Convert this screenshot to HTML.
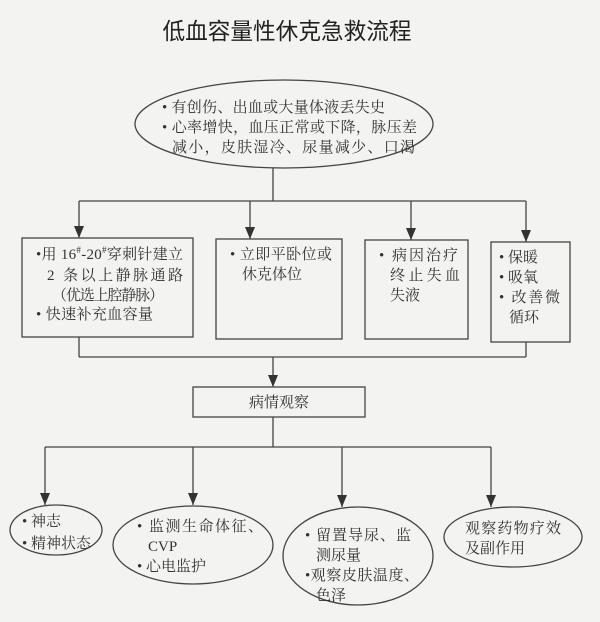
<!DOCTYPE html>
<html><head><meta charset="utf-8"><style>
html,body{margin:0;padding:0;background:#f3f3f1;}
svg{display:block}
text{font-family:"Liberation Serif","Noto Serif CJK SC",serif;font-size:15px;fill:#333;}
.t{font-family:"Liberation Sans","Noto Sans CJK SC",sans-serif;font-size:23px;fill:#222;}
</style></head><body>
<svg width="600" height="622" viewBox="0 0 600 622" xmlns="http://www.w3.org/2000/svg">
<defs><marker id="a" markerWidth="14" markerHeight="14" refX="12" refY="5" orient="auto" markerUnits="userSpaceOnUse"><path d="M0,0 L12,5 L0,10 z" fill="#333"/></marker></defs>
<g stroke="#444" stroke-width="1.3" fill="none">
<ellipse cx="284" cy="124" rx="149" ry="44"/>
<line x1="273" y1="168" x2="273" y2="201"/>
<line x1="79" y1="201" x2="526" y2="201"/>
<line x1="79" y1="201" x2="79" y2="238" marker-end="url(#a)"/>
<line x1="250" y1="201" x2="250" y2="239" marker-end="url(#a)"/>
<line x1="411" y1="201" x2="411" y2="240" marker-end="url(#a)"/>
<line x1="526" y1="201" x2="526" y2="242" marker-end="url(#a)"/>
<rect x="22" y="238" width="171" height="99"/>
<rect x="216" y="239" width="126" height="100"/>
<rect x="365" y="240" width="103" height="99"/>
<rect x="491" y="242" width="79" height="100"/>
<line x1="79" y1="337" x2="79" y2="357"/>
<line x1="526" y1="342" x2="526" y2="357"/>
<line x1="79" y1="357" x2="526" y2="357"/>
<line x1="273" y1="357" x2="273" y2="387" marker-end="url(#a)"/>
<rect x="193" y="387" width="172" height="30"/>
<line x1="273" y1="417" x2="273" y2="447"/>
<line x1="45" y1="447" x2="491" y2="447"/>
<line x1="45" y1="447" x2="45" y2="505" marker-end="url(#a)"/>
<line x1="193" y1="447" x2="193" y2="505" marker-end="url(#a)"/>
<line x1="342" y1="447" x2="342" y2="507" marker-end="url(#a)"/>
<line x1="491" y1="447" x2="491" y2="507" marker-end="url(#a)"/>
<ellipse cx="56" cy="530" rx="46" ry="25"/>
<ellipse cx="193" cy="545" rx="80" ry="39"/>
<ellipse cx="358" cy="556" rx="75" ry="49"/>
<ellipse cx="513" cy="537" rx="69" ry="30"/>
</g>
<text class="t" x="287" y="39" text-anchor="middle" textLength="249" lengthAdjust="spacingAndGlyphs">低血容量性休克急救流程</text>
<text x="162" y="112" textLength="223" lengthAdjust="spacing">• 有创伤、出血或大量体液丢失史</text>
<text x="162" y="132" textLength="255" lengthAdjust="spacing">• 心率增快，血压正常或下降，脉压差</text>
<text x="172" y="152" textLength="243" lengthAdjust="spacing">减小，皮肤湿冷、尿量减少、口渴</text>
<text x="36" y="259" textLength="147" lengthAdjust="spacing">•用 16<tspan font-size="9" dy="-6">#</tspan><tspan dy="6">-20</tspan><tspan font-size="9" dy="-6">#</tspan><tspan dy="6">穿刺针建立</tspan></text>
<text x="47" y="280" textLength="136" lengthAdjust="spacing">2 条以上静脉通路</text>
<text x="52" y="300" textLength="112" lengthAdjust="spacing">（优选上腔静脉）</text>
<text x="36" y="319" textLength="117" lengthAdjust="spacing">• 快速补充血容量</text>
<text x="230" y="259" textLength="102" lengthAdjust="spacing">• 立即平卧位或</text>
<text x="242" y="279">休克体位</text>
<text x="379" y="260" textLength="79" lengthAdjust="spacing">• 病因治疗</text>
<text x="390" y="280" textLength="70" lengthAdjust="spacing">终止失血</text>
<text x="390" y="300">失液</text>
<text x="499" y="262">• 保暖</text>
<text x="499" y="282">• 吸氧</text>
<text x="499" y="302" textLength="61" lengthAdjust="spacing">• 改善微</text>
<text x="509" y="322">循环</text>
<text x="249" y="407">病情观察</text>
<text x="22" y="526">• 神志</text>
<text x="22" y="548">• 精神状态</text>
<text x="137" y="531" textLength="126" lengthAdjust="spacing">• 监测生命体征、</text>
<text x="148" y="551">CVP</text>
<text x="137" y="571">• 心电监护</text>
<text x="305" y="540" textLength="106" lengthAdjust="spacing">• 留置导尿、监</text>
<text x="316" y="560">测尿量</text>
<text x="305" y="580" textLength="114" lengthAdjust="spacing">•观察皮肤温度、</text>
<text x="316" y="600">色泽</text>
<text x="465" y="533" textLength="96" lengthAdjust="spacing">观察药物疗效</text>
<text x="465" y="553">及副作用</text>
</svg>
</body></html>
